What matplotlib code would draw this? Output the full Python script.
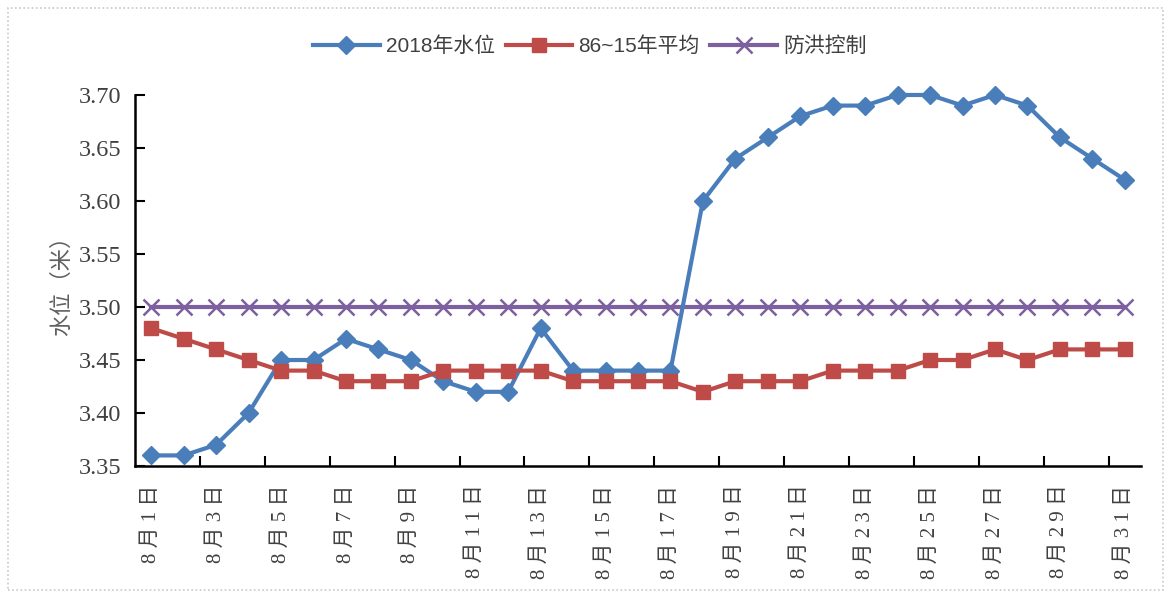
import numpy as np
import matplotlib
matplotlib.use("Agg")
import matplotlib.pyplot as plt
from matplotlib.patches import Rectangle

# data
days = list(range(1, 32))
labels = ["8 月 %s 日" % " ".join(str(d)) for d in days]
level_2018 = [3.36, 3.36, 3.37, 3.40, 3.45, 3.45, 3.47, 3.46, 3.45, 3.43,
              3.42, 3.42, 3.48, 3.44, 3.44, 3.44, 3.44, 3.60, 3.64, 3.66,
              3.68, 3.69, 3.69, 3.70, 3.70, 3.69, 3.70, 3.69, 3.66, 3.64, 3.62]
level_avg = [3.48, 3.47, 3.46, 3.45, 3.44, 3.44, 3.43, 3.43, 3.43, 3.44,
             3.44, 3.44, 3.44, 3.43, 3.43, 3.43, 3.43, 3.42, 3.43, 3.43,
             3.43, 3.44, 3.44, 3.44, 3.45, 3.45, 3.46, 3.45, 3.46, 3.46, 3.46]
flood_ctrl = [3.50] * 31
yticks = [3.35, 3.40, 3.45, 3.50, 3.55, 3.60, 3.65, 3.70]

serif = ["Liberation Serif", "Noto Sans CJK SC"]
sans = ["Liberation Sans", "Noto Sans CJK SC"]
txt = "#404040"
plt.rcParams["font.family"] = serif

fig = plt.figure(figsize=(11.68, 5.97), dpi=100)
fig.patches.append(Rectangle((0.007, 0.012), 0.989, 0.975, transform=fig.transFigure,
                             fill=False, edgecolor="#c8c8c8", linestyle=(0, (1, 1.5)),
                             linewidth=1.2))
ax = fig.add_axes([0.1156, 0.2194, 0.8613, 0.6215])

ax.plot(days, flood_ctrl, color="#7D60A0", lw=3, marker="x", ms=11, mew=1.8,
        label="防洪控制", zorder=2, clip_on=False)
ax.plot(days, level_2018, color="#4A7EBB", lw=3, marker="D", ms=9,
        label="2018年水位", zorder=3, clip_on=False)
ax.plot(days, level_avg, color="#BE4B48", lw=3, marker="s", ms=10.5,
        label="86~15年平均", zorder=4, clip_on=False)

ax.set_xlim(0.5, 31.5)
ax.set_ylim(3.35, 3.70)
ax.set_yticks(yticks)
ax.set_yticklabels(["%.2f" % v for v in yticks])
for t in ax.get_yticklabels():
    t.set_family(serif)
    t.set_fontsize(17.5)
    t.set_color(txt)

# ticks between categories every two days, labels on odd days
ax.set_xticks(np.arange(2.5, 31, 2))
ax.set_xticklabels([])
ax.tick_params(axis="x", direction="in", length=7, width=1.5)
ax.tick_params(axis="y", direction="in", length=7, width=1.5, pad=10)
for d in days[::2]:
    ax.text(d, -0.05, labels[d - 1], transform=ax.get_xaxis_transform(),
            rotation=90, ha="center", va="top", fontsize=15,
            family=serif, color=txt)

for s in ["top", "right"]:
    ax.spines[s].set_visible(False)
for s in ["left", "bottom"]:
    ax.spines[s].set_linewidth(1.8)

ax.set_ylabel("水位（米）", family=["Noto Sans CJK SC"], fontsize=16,
              color="#606060", labelpad=4)

h, l = ax.get_legend_handles_labels()
order = [1, 2, 0]
leg = fig.legend([h[i] for i in order], [l[i] for i in order], loc="center",
                 bbox_to_anchor=(0.505, 0.922), ncol=3, frameon=False,
                 prop={"family": sans, "size": 15}, handlelength=3.2,
                 handletextpad=0.3, columnspacing=0.5)
for t in leg.get_texts():
    t.set_color(txt)

fig.savefig("out.png", dpi=100)
